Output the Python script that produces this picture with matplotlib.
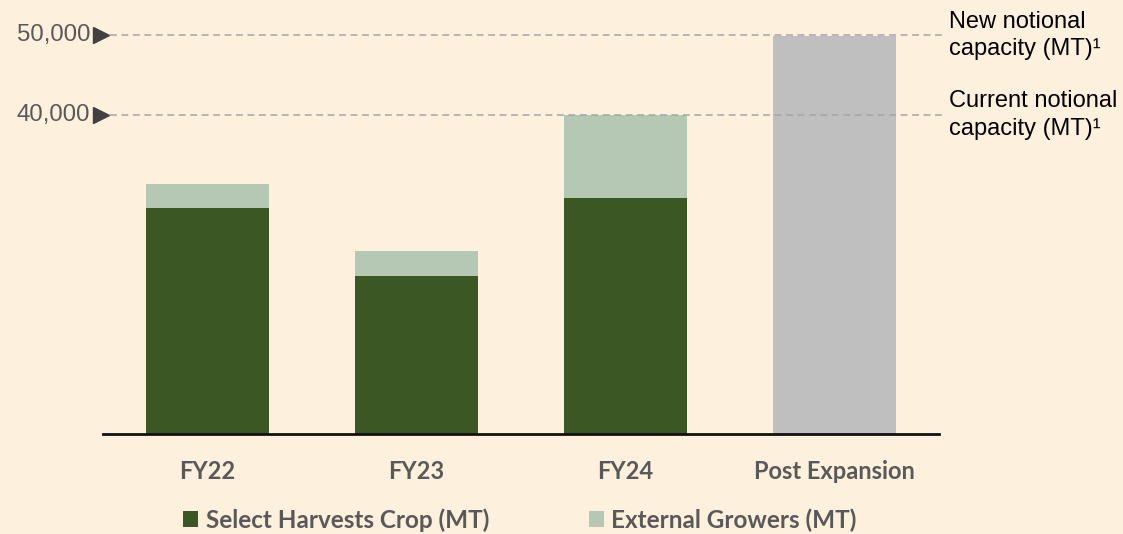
import numpy as np
import matplotlib.pyplot as plt
from matplotlib.transforms import blended_transform_factory

categories = ["FY22", "FY23", "FY24", "Post Expansion"]
own_crop = [28400, 19800, 29600, 0]        # Select Harvests Crop (MT)
external = [3000, 3150, 10400, 0]          # External Growers (MT)
capacity = [0, 0, 0, 50000]                # post expansion capacity bar
ref_levels = [50000, 40000]
ref_ticks = ["50,000", "40,000"]
ref_notes = ["New notional\ncapacity (MT)\u00b9", "Current notional\ncapacity (MT)\u00b9"]

bg = "#FDF0DC"
dark = "#3B5723"
light = "#B5C8B4"
grey = "#BFBFBF"
txt = "#595959"

fig = plt.figure(figsize=(11.23, 5.34), dpi=100, facecolor=bg)
ax = fig.add_axes([103/1123, 100/534, 836/1123, 398.5/534])
ax.set_facecolor(bg)

x = np.arange(len(categories))
w = 0.59
b1 = ax.bar(x, own_crop, w, color=dark, label="Select Harvests Crop (MT)", zorder=2)
b2 = ax.bar(x, external, w, bottom=own_crop, color=light, label="External Growers (MT)", zorder=2)
ax.bar(x, capacity, w, color=grey, zorder=2)

ax.set_xlim(-0.5, 3.5)
ax.set_ylim(0, 50000)
for s in ["top", "right", "left"]:
    ax.spines[s].set_visible(False)
ax.spines["bottom"].set_linewidth(2)
ax.spines["bottom"].set_color("#111111")
ax.set_yticks([])
ax.set_xticks(x)
ax.set_xticklabels(categories, fontfamily="Lato", fontweight="bold", fontsize=17, color=txt)
ax.tick_params(axis="x", length=0, pad=19)

tr = blended_transform_factory(ax.transAxes, ax.transData)
for lvl, lab, note in zip(ref_levels, ref_ticks, ref_notes):
    ax.plot([0.008, 1.004], [lvl, lvl], transform=tr, color="#A6A6A6", lw=1.1,
            ls=(0, (4.5, 3)), clip_on=False, zorder=3)
    ax.plot([-0.002], [lvl], transform=tr, marker=">", ms=12, color="#404040",
            clip_on=False, zorder=4)
    ax.text(-0.0155, lvl, lab, transform=tr, ha="right", va="center",
            fontfamily="Liberation Sans", fontsize=17.3, color=txt)
    ax.text(1.0125, lvl, note, transform=tr, ha="left", va="center",
            fontfamily="Liberation Sans", fontsize=17, color="black", linespacing=1.35)

leg = fig.legend(handles=[b1, b2], loc="center left", bbox_to_anchor=(171/1123, 1 - 520/534),
                 ncol=2, frameon=False, borderpad=0, handlelength=0.62, handleheight=0.62,
                 handletextpad=0.3, columnspacing=4.1,
                 prop={"family": "Lato", "weight": "bold", "size": 17.5})
for t in leg.get_texts():
    t.set_color(txt)

fig.savefig("out.png", dpi=100, facecolor=bg)
